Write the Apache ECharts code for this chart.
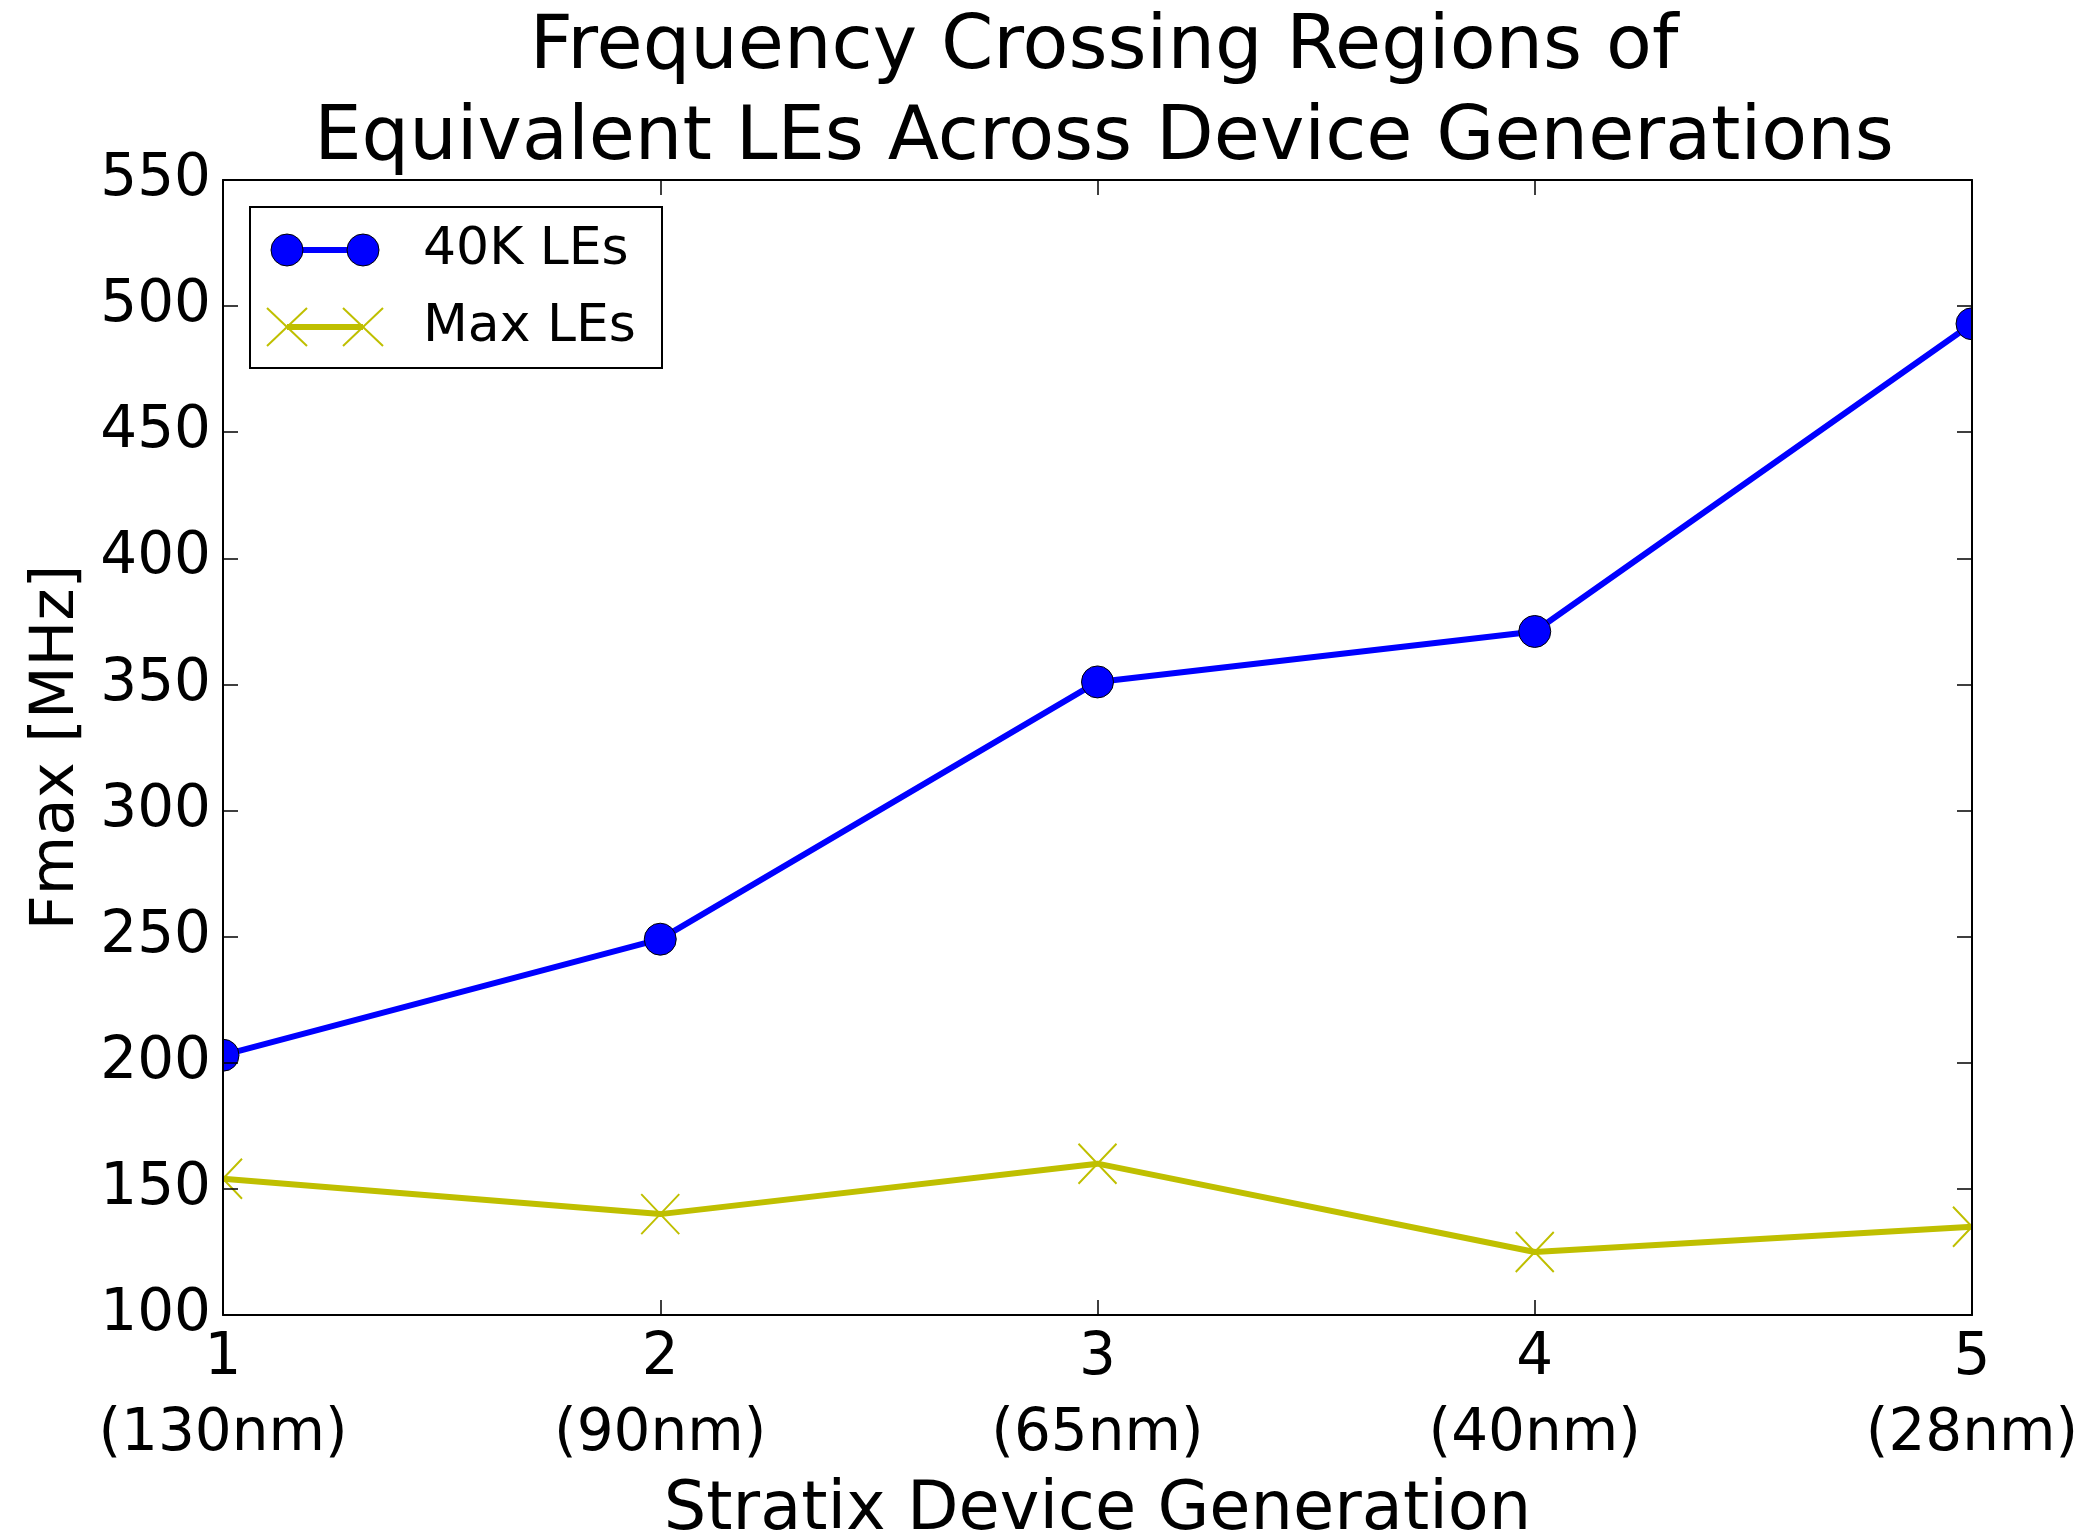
<!DOCTYPE html>
<html>
<head>
<meta charset="utf-8">
<script src="https://cdn.jsdelivr.net/npm/echarts@6/dist/echarts.min.js"></script>
<style>
  html, body { margin: 0; padding: 0; background: #fff; }
  #chart { width: 2088px; height: 1537px; }
</style>
</head>
<body>
<div id="chart"></div>
<script>
// Stratix device generations and their process nodes
const generations = [1, 2, 3, 4, 5];
const processNodes = ['(130nm)', '(90nm)', '(65nm)', '(40nm)', '(28nm)'];

// Fmax [MHz] per generation
const seriesNames = ['40K LEs', 'Max LEs'];
const fmax40K = [203, 249, 351, 371, 493];
const fmaxMaxLEs = [154, 140, 160, 125, 135];

// Axis ranges
const yMin = 100, yMax = 550, yStep = 50;
const xMin = 1, xMax = 5, xStep = 1;

const FONT = 'DejaVu Sans';
const BLUE = '#0000ff';
const OLIVE = '#bfbf00';

const GRID = { left: 223, top: 180, right: 116, bottom: 222, outerBoundsMode: 'none', containLabel: false };

const nodeByGen = {};
generations.forEach((g, i) => { nodeByGen[g] = processNodes[i]; });

function pairs(xs, ys) { return xs.map((x, i) => [x, ys[i]]); }

const frameLine = { show: true, lineStyle: { color: '#000', width: 2 } };
const innerTicks = { show: true, inside: true, length: 15, lineStyle: { color: '#000', width: 1.5 } };

const chart = echarts.init(document.getElementById('chart'), null, { renderer: 'canvas' });

// Legend drawn as a framed box in the upper-left of the plot
const legendX = 250, legendY = 207, legendW = 412, legendH = 161;
const rowY = [250, 327];
const markX = [287, 363];
const legendGraphics = [
  { type: 'rect', shape: { x: legendX, y: legendY, width: legendW, height: legendH },
    style: { fill: '#fff', stroke: '#000', lineWidth: 2 }, z: 20 },
  { type: 'line', shape: { x1: markX[0], y1: rowY[0], x2: markX[1], y2: rowY[0] },
    style: { stroke: BLUE, lineWidth: 6 }, z: 21 },
  { type: 'line', shape: { x1: markX[0], y1: rowY[1], x2: markX[1], y2: rowY[1] },
    style: { stroke: OLIVE, lineWidth: 6 }, z: 21 }
];
markX.forEach(mx => {
  legendGraphics.push({ type: 'circle', shape: { cx: mx, cy: rowY[0], r: 16 },
    style: { fill: BLUE, stroke: '#000', lineWidth: 1 }, z: 22 });
  legendGraphics.push({ type: 'polyline', shape: { points: [[mx - 20, rowY[1] - 19], [mx + 20, rowY[1] + 19]] },
    style: { stroke: OLIVE, lineWidth: 2, fill: null }, z: 22 });
  legendGraphics.push({ type: 'polyline', shape: { points: [[mx + 20, rowY[1] - 19], [mx - 20, rowY[1] + 19]] },
    style: { stroke: OLIVE, lineWidth: 2, fill: null }, z: 22 });
});
seriesNames.forEach((name, i) => {
  legendGraphics.push({ type: 'text', x: 423, y: rowY[i],
    style: { text: name, font: '52px "' + FONT + '"', fill: '#000', verticalAlign: 'middle', align: 'left' }, z: 22 });
});

// White margins outside the frame so edge markers appear clipped by the axes
const plotRight = 2088 - GRID.right;
const plotBottom = 1537 - GRID.bottom;
const edgeMasks = [
  { type: 'rect', shape: { x: 150, y: GRID.top - 30, width: GRID.left - 151, height: plotBottom - GRID.top + 60 },
    style: { fill: '#fff' }, z: 5 },
  { type: 'rect', shape: { x: plotRight + 1, y: GRID.top - 30, width: 60, height: plotBottom - GRID.top + 60 },
    style: { fill: '#fff' }, z: 5 }
];

const option = {
  backgroundColor: '#fff',
  animation: false,
  title: {
    text: 'Frequency Crossing Regions of\nEquivalent LEs Across Device Generations',
    left: 1099,
    textAlign: 'center',
    top: -2,
    textStyle: { fontFamily: FONT, fontSize: 75, fontWeight: 'normal', color: '#000', lineHeight: 91 }
  },
  grid: GRID,
  xAxis: [
    {
      type: 'value', min: xMin, max: xMax, interval: xStep, position: 'bottom', z: 10,
      axisLine: frameLine, axisTick: innerTicks, splitLine: { show: false },
      axisLabel: {
        margin: 6, color: '#000', fontFamily: FONT, fontSize: 58, lineHeight: 76,
        formatter: v => v + '\n' + (nodeByGen[v] || '')
      },
      name: 'Stratix Device Generation', nameLocation: 'middle', nameGap: 158,
      nameTextStyle: { fontFamily: FONT, fontSize: 67, color: '#000' }
    },
    {
      type: 'value', min: xMin, max: xMax, interval: xStep, position: 'top', z: 10,
      axisLine: frameLine, axisTick: innerTicks, axisLabel: { show: false }, splitLine: { show: false }
    }
  ],
  yAxis: [
    {
      type: 'value', min: yMin, max: yMax, interval: yStep, position: 'left', z: 10,
      axisLine: frameLine, axisTick: innerTicks, splitLine: { show: false },
      axisLabel: { margin: 12, color: '#000', fontFamily: FONT, fontSize: 58 },
      name: 'Fmax [MHz]', nameLocation: 'middle', nameGap: 135, nameRotate: 90,
      nameTextStyle: { fontFamily: FONT, fontSize: 61, color: '#000' }
    },
    {
      type: 'value', min: yMin, max: yMax, interval: yStep, position: 'right', z: 10,
      axisLine: frameLine, axisTick: innerTicks, axisLabel: { show: false }, splitLine: { show: false }
    }
  ],
  series: [
    {
      name: seriesNames[0], type: 'line', xAxisIndex: 0, yAxisIndex: 0,
      data: pairs(generations, fmax40K),
      symbol: 'circle', symbolSize: 32, showAllSymbol: true,
      lineStyle: { color: BLUE, width: 6 },
      itemStyle: { color: BLUE, borderColor: '#000', borderWidth: 1 },
      z: 3
    },
    {
      name: seriesNames[1], type: 'line', xAxisIndex: 0, yAxisIndex: 0,
      data: pairs(generations, fmaxMaxLEs),
      symbol: 'path://M0,0L40,40M40,0L0,40', symbolSize: [38, 40], showAllSymbol: true,
      lineStyle: { color: OLIVE, width: 6 },
      itemStyle: { color: 'rgba(0,0,0,0)', borderColor: OLIVE, borderWidth: 2 },
      z: 3
    }
  ],
  graphic: edgeMasks.concat(legendGraphics)
};

chart.setOption(option);
</script>
</body>
</html>
